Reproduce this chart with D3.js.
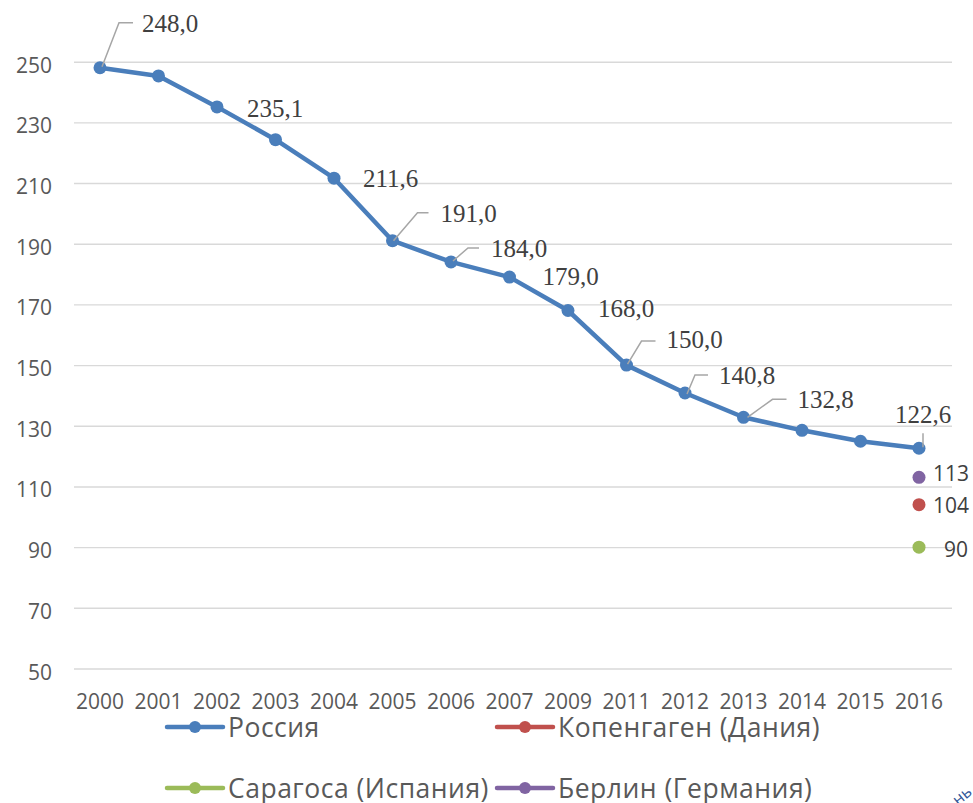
<!DOCTYPE html>
<html><head><meta charset="utf-8">
<script src="https://cdn.jsdelivr.net/npm/d3@7/dist/d3.min.js"></script>
<style>
html,body{margin:0;padding:0;background:#fff;}
svg{display:block;}
</style></head>
<body>
<svg id="chart" width="973" height="803"></svg>
<script>
// ---- data ----
const categories = ["2000","2001","2002","2003","2004","2005","2006","2007","2009","2011","2012","2013","2014","2015","2016"];
const russia = [248.0,245.3,235.1,224.3,211.6,191.0,184.0,179.0,168.0,150.0,140.8,132.8,128.5,124.9,122.6];
const russiaLabels = ["248,0",null,"235,1",null,"211,6","191,0","184,0","179,0","168,0","150,0","140,8","132,8",null,null,"122,6"];
const copenhagen = [{cat:"2016", value:104}];
const zaragoza = [{cat:"2016", value:90}];
const berlin = [{cat:"2016", value:113}];
const yTicks = [50,70,90,110,130,150,170,190,210,230,250];
const seriesNames = ["Россия","Копенгаген (Дания)","Сарагоса (Испания)","Берлин (Германия)"];

// ---- layout / style (not data) ----
const colors = {"Россия":"#4a7ebb","Копенгаген (Дания)":"#c0504d","Сарагоса (Испания)":"#9bbb59","Берлин (Германия)":"#8064a2"};
const plotL = 74, plotR = 952, plotT = 61.7, plotB = 668.5;
// label offsets relative to point: [dx, dy] for text start/baseline, leader polyline points
const labelOffsets = {
  0:{t:[42,-36], lead:[[2,-1],[19,-45],[33,-45]]},
  2:{t:[30,10]},
  4:{t:[29,9]},
  5:{t:[48,-19], lead:[[1,0],[25,-28],[36,-28]]},
  6:{t:[40,-5], lead:[[2,-1],[17,-14],[28,-14]]},
  7:{t:[33,8]},
  8:{t:[30,7]},
  9:{t:[40,-17], lead:[[1,-1],[15,-24],[29,-24]]},
  10:{t:[34,-9], lead:[[2,1],[10,-18],[23,-18]]},
  11:{t:[54,-9], lead:[[4,0],[29,-18],[43,-18]]},
  14:{t:[-24,-25], lead:[[4,-1],[4,-15]]}
};
const smallLabelOffsets = {"Копенгаген (Дания)":[14,8],"Сарагоса (Испания)":[25,10],"Берлин (Германия)":[14,4]};

const svg = d3.select("#chart");
const x = d3.scaleBand().domain(categories).range([70.75, 948.25]).padding(0);
const cx = c => x(c) + x.bandwidth()/2;
const y = d3.scaleLinear().domain([50,250]).range([plotB, plotT]);

// y axis with gridlines
const yAxis = svg.append("g").attr("transform",`translate(${plotL},0)`)
  .call(d3.axisLeft(y).tickValues(yTicks).tickSize(-(plotR-plotL)).tickPadding(22).tickFormat(d3.format("d")));
yAxis.select(".domain").remove();
yAxis.selectAll(".tick line").attr("stroke","#d9d9d9").attr("stroke-width",1.4);
yAxis.selectAll(".tick text").attr("fill","#595959").attr("font-family","'Open Sans', sans-serif").attr("font-size",21).attr("dy","0.5em");

// x axis
const xAxis = svg.append("g").attr("transform",`translate(0,${plotB})`)
  .call(d3.axisBottom(x).tickSize(0).tickPadding(26));
xAxis.select(".domain").remove();
xAxis.selectAll(".tick text").attr("fill","#595959").attr("font-family","'Open Sans', sans-serif").attr("font-size",21);

// Russia line
const rData = categories.map((c,i)=>({cat:c, value:russia[i], label:russiaLabels[i], i}));
svg.append("path").datum(rData)
  .attr("fill","none").attr("stroke",colors["Россия"]).attr("stroke-width",4.5).attr("stroke-linejoin","round").attr("stroke-linecap","round")
  .attr("d", d3.line().x(d=>cx(d.cat)).y(d=>y(d.value)));
svg.append("g").selectAll("circle").data(rData).join("circle")
  .attr("cx",d=>cx(d.cat)).attr("cy",d=>y(d.value)).attr("r",6.5).attr("fill",colors["Россия"]);

// leader lines and labels
const lblG = svg.append("g");
rData.filter(d=>d.label).forEach(d=>{
  const px = cx(d.cat), py = y(d.value), o = labelOffsets[d.i];
  if (o.lead) {
    lblG.append("polyline")
      .attr("points", o.lead.map(p=>[px+p[0], py+p[1]].join(",")).join(" "))
      .attr("fill","none").attr("stroke","#a6a6a6").attr("stroke-width",1.5);
  }
  lblG.append("text").attr("x",px+o.t[0]).attr("y",py+o.t[1])
    .attr("font-family","'Liberation Serif','Times New Roman',serif").attr("font-size",25).attr("fill","#404040")
    .text(d.label);
});

// other series points
[["Копенгаген (Дания)",copenhagen],["Сарагоса (Испания)",zaragoza],["Берлин (Германия)",berlin]].forEach(([name,arr])=>{
  const g = svg.append("g");
  g.selectAll("circle").data(arr).join("circle")
    .attr("cx",d=>cx(d.cat)).attr("cy",d=>y(d.value)).attr("r",6.5).attr("fill",colors[name]);
  g.selectAll("text").data(arr).join("text")
    .attr("x",d=>cx(d.cat)+smallLabelOffsets[name][0]).attr("y",d=>y(d.value)+smallLabelOffsets[name][1])
    .attr("font-family","'Open Sans', sans-serif").attr("font-size",21).attr("fill","#404040")
    .text(d=>d.value);
});

// legend
const legendPos = [[167,727],[497,727],[167,788],[497,788]];
const lg = svg.append("g");
seriesNames.forEach((name,i)=>{
  const [lx,ly] = legendPos[i];
  lg.append("line").attr("x1",lx).attr("x2",lx+56).attr("y1",ly).attr("y2",ly)
    .attr("stroke",colors[name]).attr("stroke-width",4.5).attr("stroke-linecap","round");
  lg.append("circle").attr("cx",lx+28).attr("cy",ly).attr("r",6).attr("fill",colors[name]);
  lg.append("text").attr("x",lx+61).attr("y",ly+10)
    .attr("font-family","'Open Sans', sans-serif").attr("font-size",26.5).attr("letter-spacing","0.5px")
    .attr("fill","#595959").text(name);
});

// corner fragment
svg.append("text").attr("transform","translate(958,806) rotate(-40)")
  .attr("font-family","'Open Sans', sans-serif").attr("font-size",16).attr("fill","#2f5597").text("нь");
</script>
</body></html>
